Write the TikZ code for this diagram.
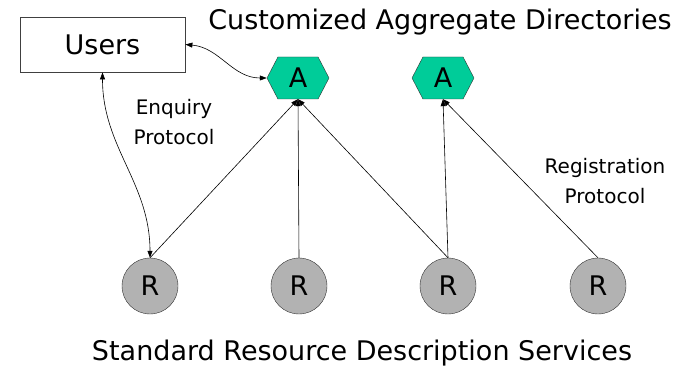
\documentclass[tikz,border=0pt]{standalone}
\usepackage{fontspec}
\setmainfont{DejaVu Sans}
\usetikzlibrary{arrows.meta,shapes.symbols}
\definecolor{dirgreen}{HTML}{00CC99}
\definecolor{resgrey}{HTML}{B2B2B2}

\begin{document}
\begin{tikzpicture}[
  x=1pt, y=1pt, >={Triangle[length=7pt,width=5pt]},
  font=\fontsize{27}{30}\selectfont,
  box/.style={draw=black!75, line width=0.8pt, minimum width=165pt,
    minimum height=55pt, inner sep=0pt},
  agg/.style={draw=black!80, fill=dirgreen, shape=signal, signal to=west and east,
    signal from=nowhere, signal pointer angle=125, minimum width=62pt,
    minimum height=42pt, inner sep=0pt},
  res/.style={draw=black!80, fill=resgrey, circle, minimum size=56pt, inner sep=0pt},
  lbl/.style={font=\fontsize{20}{30}\selectfont, align=center},
  link/.style={->, line width=0.6pt},
]
\useasboundingbox (0,0) rectangle (696,367);

\node[anchor=base] (aggtitle) at (440,337) {Customized Aggregate Directories};
\node[anchor=base] (restitle) at (362,7) {Standard Resource Description Services};

\node[box] (users) at (102.5,322.5) {Users};
\node[agg] (a1) at (298,289) {A};
\node[agg] (a2) at (443,289) {A};

\node[res] (r1) at (150,81) {R};
\node[res] (r2) at (299,81) {R};
\node[res] (r3) at (448,81) {R};
\node[res] (r4) at (598,81) {R};

\node[lbl] (enq) at (174,245) {Enquiry\\Protocol};
\node[lbl] (reg) at (605,186) {Registration\\Protocol};

% enquiry
\draw[link, <->] (users.east) to[out=-5,in=180] (a1.west);
\draw[link, <->] (users.south) to[out=-90,in=90] (r1.north);

% registration
\draw[link] (r1.north) -- (a1.south);
\draw[link] (r2.north) -- (a1.south);
\draw[link] (r3.north) -- (a1.south);
\draw[link] (r3.north) -- (a2.south);
\draw[link] (r4.north) -- (a2.south);
\end{tikzpicture}
\end{document}
